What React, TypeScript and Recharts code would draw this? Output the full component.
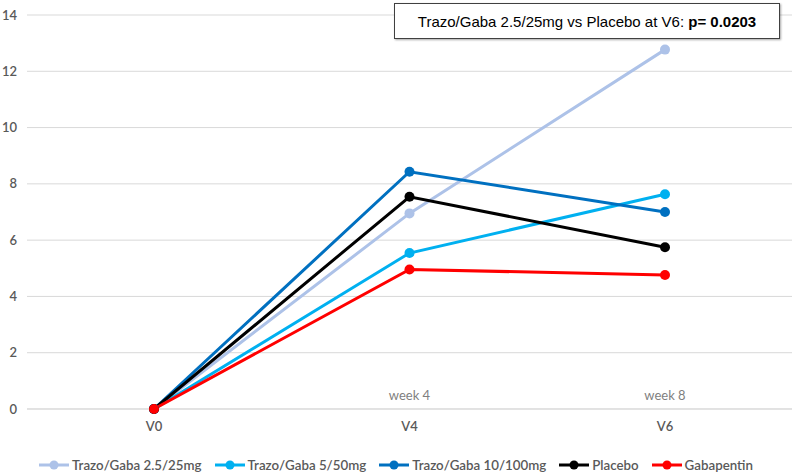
import React from 'react';
import { LineChart, Line, XAxis, YAxis, CartesianGrid, Legend, ReferenceDot } from 'recharts';

const categories = ['V0', 'V4', 'V6'];
const weekLabels = ['', 'week 4', 'week 8'];
const yTicks = [0, 2, 4, 6, 8, 10, 12, 14];

const trazo25 = [0, 6.95, 12.77];
const trazo50 = [0, 5.54, 7.63];
const trazo100 = [0, 8.43, 7.0];
const placebo = [0, 7.54, 5.75];
const gabapentin = [0, 4.96, 4.76];

const series = [
  { key: 'trazo25', name: 'Trazo/Gaba 2.5/25mg', color: '#adc2e8', values: trazo25 },
  { key: 'trazo50', name: 'Trazo/Gaba 5/50mg', color: '#00b0f0', values: trazo50 },
  { key: 'trazo100', name: 'Trazo/Gaba 10/100mg', color: '#0070c0', values: trazo100 },
  { key: 'placebo', name: 'Placebo', color: '#000000', values: placebo },
  { key: 'gabapentin', name: 'Gabapentin', color: '#ff0000', values: gabapentin },
];

const data = categories.map((c, i) => {
  const row: Record<string, string | number> = { visit: c };
  series.forEach((s) => {
    row[s.key] = s.values[i];
  });
  return row;
});

const tickStyle = { fill: '#595959', fontSize: 13, fontFamily: 'Lato, sans-serif', fontWeight: 600 };

const LegendContent = () => (
  <div style={{ display: 'flex', justifyContent: 'center', alignItems: 'center', gap: 13, paddingTop: 8 }}>
    {series.map((s) => (
      <div key={s.key} style={{ display: 'flex', alignItems: 'center' }}>
        <svg width={30} height={12} style={{ marginRight: 3 }}>
          <line x1={0} y1={6} x2={30} y2={6} stroke={s.color} strokeWidth={3} />
          <circle cx={15} cy={6} r={4.5} fill={s.color} />
        </svg>
        <span style={{ color: '#595959', fontSize: 13.3, fontFamily: 'Lato, sans-serif', fontWeight: 600 }}>
          {s.name}
        </span>
      </div>
    ))}
  </div>
);

export default function App() {
  return (
    <div style={{ position: 'absolute', left: 0, top: 0, width: 796, height: 473, background: '#fff' }}>
      <LineChart width={796} height={473} data={data} margin={{ top: 15, right: 4, left: 0, bottom: 0 }}>
        <CartesianGrid vertical={false} stroke="#d9d9d9" />
        <XAxis
          dataKey="visit"
          padding={{ left: 127, right: 127 }}
          axisLine={{ stroke: '#d9d9d9' }}
          tickLine={false}
          tickSize={0}
          tickMargin={13}
          height={40}
          tick={tickStyle}
        />
        <YAxis
          domain={[0, 14]}
          ticks={yTicks}
          width={27}
          axisLine={false}
          tickLine={false}
          tickSize={0}
          tickMargin={10}
          tick={tickStyle}
        />
        <Legend verticalAlign="bottom" height={24} content={<LegendContent />} />
        {categories.map((c, i) =>
          weekLabels[i] ? (
            <ReferenceDot
              key={c}
              x={c}
              y={0}
              r={0}
              fill="none"
              stroke="none"
              label={{
                value: weekLabels[i],
                position: 'top',
                offset: 9,
                fill: '#7f7f7f',
                fontSize: 13,
                fontFamily: 'Lato, sans-serif',
              }}
            />
          ) : null
        )}
        {series.map((s) => (
          <Line
            key={s.key}
            type="linear"
            dataKey={s.key}
            name={s.name}
            stroke={s.color}
            strokeWidth={3}
            dot={{ r: 5, fill: s.color, stroke: s.color, strokeWidth: 0 }}
            activeDot={false}
            isAnimationActive={false}
          />
        ))}
      </LineChart>
      <div
        style={{
          position: 'absolute',
          left: 394,
          top: 3,
          width: 384,
          height: 34,
          border: '1px solid #404040',
          boxShadow: '1px 1px 2px rgba(0,0,0,0.35)',
          background: '#fff',
          display: 'flex',
          alignItems: 'center',
          justifyContent: 'center',
          fontFamily: '"Liberation Sans", Arial, sans-serif',
          fontSize: 15,
          color: '#000',
        }}
      >
        <span>
          Trazo/Gaba 2.5/25mg vs Placebo at V6: <b>p= 0.0203</b>
        </span>
      </div>
    </div>
  );
}
